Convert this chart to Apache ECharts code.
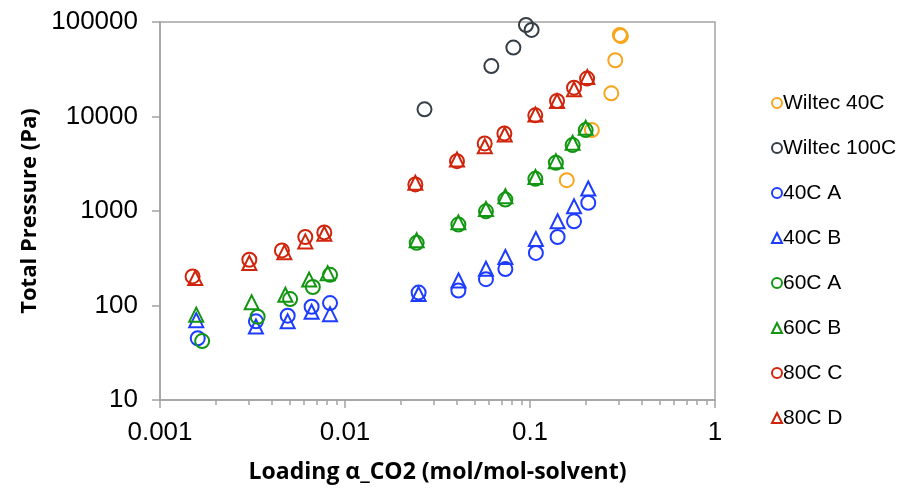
<!DOCTYPE html>
<html>
<head>
<meta charset="utf-8">
<script src="https://cdn.jsdelivr.net/npm/echarts@6.0.0/dist/echarts.min.js"></script>
<style>
  html, body { margin: 0; padding: 0; background: #ffffff; }
  #chart { width: 899px; height: 489px; }
</style>
</head>
<body>
<div id="chart"></div>
<script>
// loading (mol/mol-solvent), total pressure (Pa)
var wiltec40 = [[0.158, 2120], [0.216, 7180], [0.275, 17600], [0.289, 39400], [0.306, 73000], [0.31, 71000]];
var wiltec100 = [[0.0269, 11900], [0.0618, 34200], [0.0813, 53600], [0.0951, 93000], [0.102, 82400]];
var c40A = [[0.0016, 45], [0.0033, 68], [0.0049, 78], [0.0066, 97], [0.0083, 106], [0.025, 137], [0.041, 144],
  [0.0578, 190], [0.0736, 243], [0.1076, 360], [0.141, 531], [0.173, 778], [0.2065, 1220]];
var c40B = [[0.00157, 70], [0.0033, 60], [0.0049, 68], [0.0066, 86], [0.0083, 81], [0.025, 132], [0.0411, 184],
  [0.0578, 245], [0.0736, 326], [0.1076, 506], [0.141, 778], [0.173, 1120], [0.2065, 1730]];
var c60A = [[0.00169, 42], [0.00337, 76], [0.00505, 117], [0.0067, 157], [0.0083, 211], [0.0244, 460], [0.041, 718],
  [0.0578, 993], [0.0736, 1320], [0.1069, 2190], [0.138, 3240], [0.17, 4980], [0.2, 7180]];
var c60B = [[0.00157, 80], [0.00313, 108], [0.00476, 130], [0.0064, 188], [0.00806, 220], [0.0244, 489], [0.041, 758],
  [0.0578, 1050], [0.0736, 1430], [0.107, 2290], [0.138, 3370], [0.17, 5270], [0.2, 7600]];
var c80C = [[0.0015, 203], [0.00304, 305], [0.00456, 383], [0.0061, 531], [0.00773, 594], [0.024, 1910], [0.0403, 3370],
  [0.0569, 5190], [0.0727, 6620], [0.1068, 10280], [0.14, 14600], [0.173, 20200], [0.2035, 25200]];
var c80D = [[0.00155, 195], [0.00304, 282], [0.0047, 365], [0.0061, 477], [0.00773, 575], [0.024, 1990], [0.0403, 3510],
  [0.057, 4850], [0.073, 6450], [0.107, 10500], [0.14, 14600], [0.173, 19400], [0.204, 26200]];

var xMajorTicks = [0.001, 0.01, 0.1, 1];
var xMinorTicks = [0.002, 0.003, 0.004, 0.005, 0.006, 0.007, 0.008, 0.009,
  0.02, 0.03, 0.04, 0.05, 0.06, 0.07, 0.08, 0.09,
  0.2, 0.3, 0.4, 0.5, 0.6, 0.7, 0.8, 0.9];

var axisGray = "#a3a3a3";

function mk(name, data, symbol, color) {
  return {
    name: name,
    type: "scatter",
    data: data,
    symbol: symbol,
    symbolSize: 14,
    itemStyle: {
      color: "rgba(255,255,255,0)",
      borderColor: color,
      borderWidth: 2,
      opacity: 1
    },
    emphasis: { disabled: true }
  };
}

var chart = echarts.init(document.getElementById("chart"));
chart.setOption({
  backgroundColor: "#ffffff",
  animation: false,
  grid: {
    left: 160, right: 184, top: 22, bottom: 89,
    show: true,
    borderColor: axisGray,
    borderWidth: 1.5
  },
  legend: {
    orient: "vertical",
    left: 766,
    top: 86,
    itemWidth: 10,
    itemHeight: 10,
    itemGap: 21,
    textStyle: { fontFamily: "Liberation Sans", fontSize: 21, color: "#000", lineHeight: 24, padding: [0, 0, 0, -4] },
    data: ["Wiltec 40C", "Wiltec 100C", "40C A", "40C B", "60C A", "60C B", "80C C", "80C D"]
  },
  xAxis: [
    {
      type: "log",
      logBase: 10,
      min: 0.001,
      max: 1,
      name: "Loading α_CO2 (mol/mol-solvent)",
      nameLocation: "middle",
      nameGap: 61,
      nameTextStyle: { fontFamily: "Open Sans", fontWeight: "bold", fontSize: 23, color: "#000" },
      axisLine: { lineStyle: { color: axisGray, width: 1.5 } },
      axisTick: { show: true, length: 8, lineStyle: { color: axisGray, width: 1.5 }, customValues: xMajorTicks },
      axisLabel: {
        fontFamily: "Liberation Sans", fontSize: 26, color: "#000", margin: 20,
        customValues: xMajorTicks,
        formatter: function (v) { return String(+(+v).toPrecision(6)); }
      },
      splitLine: { show: false },
      minorTick: { show: false }
    },
    {
      type: "log",
      logBase: 10,
      min: 0.001,
      max: 1,
      position: "bottom",
      axisLine: { show: false },
      axisTick: { show: true, length: 5, lineStyle: { color: axisGray, width: 1.5 }, customValues: xMinorTicks },
      axisLabel: { show: false },
      splitLine: { show: false }
    }
  ],
  yAxis: {
    type: "log",
    logBase: 10,
    min: 10,
    max: 100000,
    name: "Total Pressure (Pa)",
    nameLocation: "middle",
    nameGap: 119,
    nameTextStyle: { fontFamily: "Open Sans", fontWeight: "bold", fontSize: 22, color: "#000" },
    axisLine: { show: true, lineStyle: { color: axisGray, width: 1.5 } },
    axisTick: { show: true, length: 8, lineStyle: { color: axisGray, width: 1.5 } },
    axisLabel: {
      fontFamily: "Liberation Sans", fontSize: 26, color: "#000", margin: 22,
      formatter: function (v) { return String(Math.round(v)); }
    },
    splitLine: { show: false }
  },
  series: [
    mk("Wiltec 40C", wiltec40, "circle", "#f8a51b"),
    mk("Wiltec 100C", wiltec100, "circle", "#353d45"),
    mk("40C A", c40A, "circle", "#1e3cff"),
    mk("40C B", c40B, "triangle", "#1e3cff"),
    mk("60C A", c60A, "circle", "#129612"),
    mk("60C B", c60B, "triangle", "#129612"),
    mk("80C C", c80C, "circle", "#cf250c"),
    mk("80C D", c80D, "triangle", "#cf250c")
  ]
});
</script>
</body>
</html>
